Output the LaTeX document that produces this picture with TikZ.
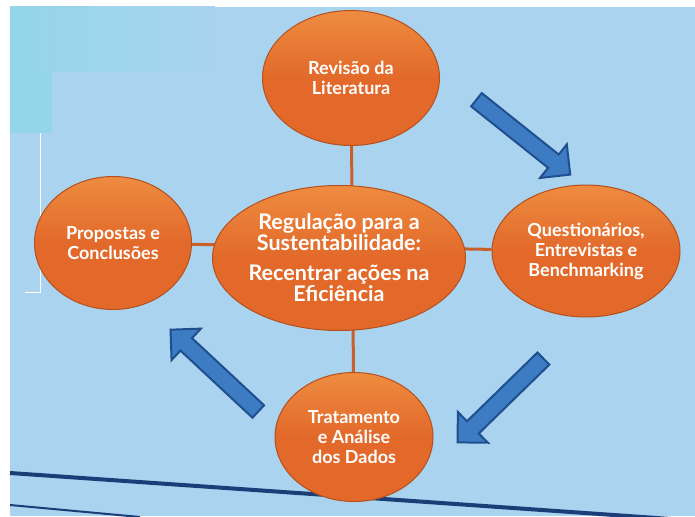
\documentclass[tikz,border=0pt]{standalone}
\usepackage{fontspec}
\setmainfont{Lato}
\usetikzlibrary{shapes.geometric,shapes.arrows,backgrounds}
\definecolor{sky}{HTML}{A9D3EF}
\definecolor{aqua}{HTML}{93D6EA}
\definecolor{orng}{HTML}{E2692A}
\definecolor{orngtop}{HTML}{EE8C40}
\definecolor{orngrim}{HTML}{B5501F}
\definecolor{stem}{HTML}{C95F2B}
\definecolor{arrowfill}{HTML}{3D7BC3}
\definecolor{arrowrim}{HTML}{1F4F8E}
\definecolor{navy}{HTML}{1B3D78}
\tikzset{
  bubble/.style={ellipse,draw=orngrim,line width=1pt,top color=orngtop,bottom color=orng,middle color=orng,
    text=white,font=\bfseries\fontsize{18}{20}\selectfont,align=center,inner sep=0pt},
  stemline/.style={draw=stem,line width=3pt},
  flow/.style={single arrow,draw=arrowrim,fill=arrowfill,line width=2pt,inner xsep=0pt,inner ysep=7.5pt,
    single arrow head extend=13pt,minimum height=120pt}
}
\begin{document}
\begin{tikzpicture}[x=1pt,y=-1pt]
\useasboundingbox (0,0) rectangle (695,516);
\clip (0,0) rectangle (695,516);
\node[bubble,minimum width=253pt,minimum height=145pt,inner xsep=-15pt,font=\bfseries\fontsize{21.5}{21}\selectfont] (hub) at (339,258)
  {Regulação para a\\Sustentabilidade:\\[9pt]Recentrar ações na\\Eficiência};
\node[bubble,minimum width=177pt,minimum height=135pt] (lit) at (351,78) {Revisão da\\Literatura};
\node[bubble,minimum width=188pt,minimum height=132pt] (quest) at (586,251) {Questionários,\\Entrevistas e\\Benchmarking};
\node[bubble,minimum width=158pt,minimum height=129pt] (dados) at (354,437) {Tratamento\\e Análise\\dos Dados};
\node[bubble,minimum width=157pt,minimum height=133pt] (prop) at (113,243) {Propostas e\\Conclusões};
\node[flow,rotate=-38.6] (toquest) at (520,134.5) {};
\node[flow,rotate=-135.7] (todados) at (503.5,397.5) {};
\node[flow,rotate=137] (toprop) at (217.5,373.5) {};
\begin{scope}[on background layer]
  \fill[white] (0,0) rectangle (695,516);
  \fill[sky] (10,7) rectangle (695,516);
  \shade[left color=aqua,right color=sky] (10,7) rectangle (215,72);
  \fill[aqua] (10,72) rectangle (52,133);
  \draw[white,line width=0.8pt] (40,133) -- (40,292) -- (25,292);
  \draw[navy,line width=4pt] (10,473) -- (700,521);
  \draw[navy,line width=2pt] (10,505) -- (140,517);
  \draw[stemline] (lit) -- (dados);
  \draw[stemline] (prop) -- (quest);
\end{scope}
\end{tikzpicture}
\end{document}
